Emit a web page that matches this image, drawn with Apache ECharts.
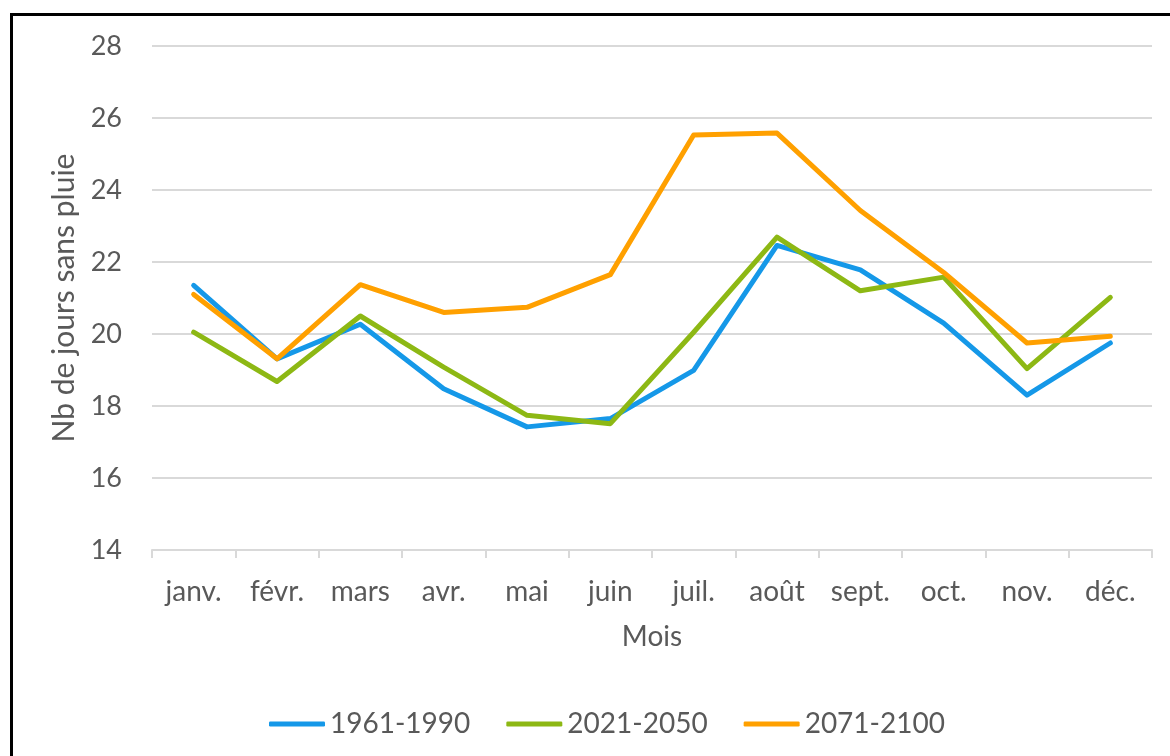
<!DOCTYPE html>
<html>
<head>
<meta charset="utf-8">
<script src="https://cdn.jsdelivr.net/npm/echarts@6/dist/echarts.min.js"></script>
<style>
  html, body { margin: 0; padding: 0; background: #ffffff; }
  #chart { width: 1170px; height: 756px; }
</style>
</head>
<body>
<div id="chart"></div>
<script>
const months = ['janv.', 'févr.', 'mars', 'avr.', 'mai', 'juin', 'juil.', 'août', 'sept.', 'oct.', 'nov.', 'déc.'];
const s1961_1990 = [21.35, 19.31, 20.27, 18.48, 17.42, 17.65, 18.99, 22.46, 21.78, 20.30, 18.30, 19.75];
const s2021_2050 = [20.05, 18.68, 20.50, 19.08, 17.74, 17.51, 20.05, 22.69, 21.20, 21.58, 19.04, 21.02];
const s2071_2100 = [21.10, 19.31, 21.37, 20.60, 20.74, 21.65, 25.53, 25.58, 23.43, 21.71, 19.75, 19.94];
const seriesNames = ['1961-1990', '2021-2050', '2071-2100'];
const colors = ['#1598E8', '#8DB814', '#FFA000'];

const FONT = 'Lato';
const TXT = '#595959';
const chart = echarts.init(document.getElementById('chart'), null, { renderer: 'canvas' });

function mk(name, data, color) {
  return {
    name: name,
    type: 'line',
    data: data,
    symbol: 'none',
    smooth: false,
    lineStyle: { width: 5, color: color, join: 'round', cap: 'round' },
    itemStyle: { color: color },
    emphasis: { disabled: true }
  };
}

chart.setOption({
  animation: false,
  backgroundColor: '#ffffff',
  graphic: [{
    type: 'rect',
    shape: { x: 11.5, y: 14.5, width: 1300, height: 900 },
    style: { fill: 'none', stroke: '#000000', lineWidth: 3 },
    silent: true
  }],
  grid: { left: 152, right: 18, top: 46, bottom: 206, containLabel: false },
  legend: {
    data: seriesNames,
    left: 264,
    top: 705,
    icon: 'roundRect',
    itemWidth: 56,
    itemHeight: 5,
    itemGap: 36,
    textStyle: { fontFamily: FONT, fontSize: 28, color: TXT }
  },
  xAxis: {
    type: 'category',
    data: months,
    boundaryGap: true,
    name: 'Mois',
    nameLocation: 'middle',
    nameGap: 73,
    nameTextStyle: { fontFamily: FONT, fontSize: 28, color: TXT },
    axisLine: { lineStyle: { color: '#d9d9d9', width: 2 } },
    axisTick: { show: true, length: 8, lineStyle: { color: '#d9d9d9', width: 2 } },
    axisLabel: { fontFamily: FONT, fontSize: 28, color: TXT, margin: 28 }
  },
  yAxis: {
    type: 'value',
    min: 14,
    max: 28,
    interval: 2,
    name: 'Nb de jours sans pluie',
    nameLocation: 'middle',
    nameGap: 71,
    nameTextStyle: { fontFamily: FONT, fontSize: 30, color: TXT },
    axisLine: { show: false },
    axisTick: { show: false },
    axisLabel: { fontFamily: FONT, fontSize: 27, color: TXT, margin: 30 },
    splitLine: { lineStyle: { color: '#d9d9d9', width: 2 } }
  },
  series: [
    mk(seriesNames[0], s1961_1990, colors[0]),
    mk(seriesNames[1], s2021_2050, colors[1]),
    mk(seriesNames[2], s2071_2100, colors[2])
  ]
});
</script>
</body>
</html>
